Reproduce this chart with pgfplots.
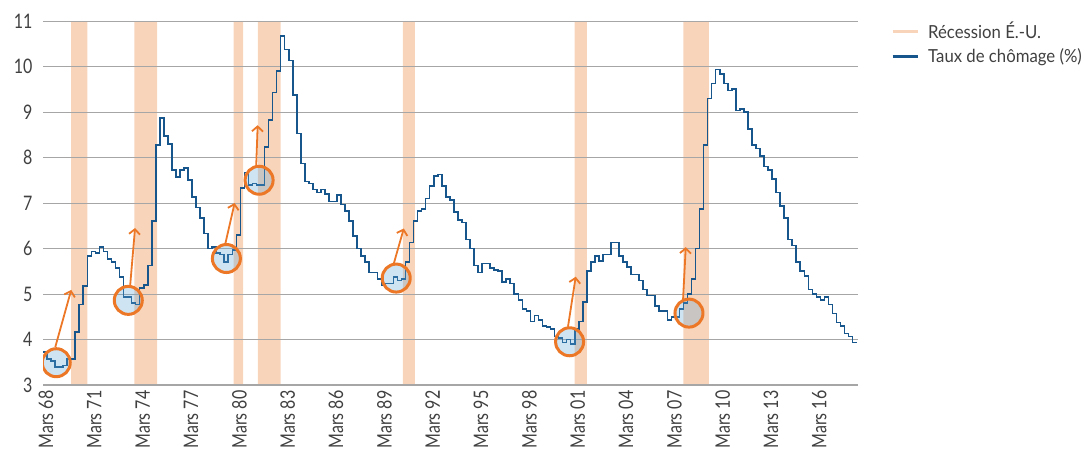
\documentclass[border=0pt]{standalone}
\usepackage{pgfplots}
\pgfplotsset{compat=1.18}
\usepackage{pgfplotstable}
\usepackage{fontspec}
\setmainfont{Lato}[FakeStretch=0.8]
\newfontfamily\legfont{Lato}[FakeStretch=0.93]
\usetikzlibrary{arrows.meta}
\definecolor{recess}{RGB}{248,212,186}
\definecolor{unblue}{RGB}{22,86,140}
\definecolor{gridgray}{RGB}{166,166,166}
\definecolor{annor}{RGB}{236,119,38}
\definecolor{cfill}{RGB}{95,165,215}
\definecolor{textgray}{RGB}{64,64,64}

\pgfplotstableread{
x y
1968.167 3.73
1968.417 3.57
1968.667 3.53
1968.917 3.40
1969.167 3.40
1969.417 3.43
1969.667 3.57
1969.917 3.57
1970.167 4.17
1970.417 4.77
1970.667 5.17
1970.917 5.83
1971.167 5.93
1971.417 5.90
1971.667 6.03
1971.917 5.93
1972.167 5.77
1972.417 5.70
1972.667 5.57
1972.917 5.37
1973.167 4.93
1973.417 4.93
1973.667 4.80
1973.917 4.77
1974.167 5.13
1974.417 5.20
1974.667 5.63
1974.917 6.60
1975.167 8.27
1975.417 8.87
1975.667 8.47
1975.917 8.30
1976.167 7.73
1976.417 7.57
1976.667 7.73
1976.917 7.77
1977.167 7.50
1977.417 7.13
1977.667 6.90
1977.917 6.67
1978.167 6.33
1978.417 6.00
1978.667 6.03
1978.917 5.90
1979.167 5.87
1979.417 5.70
1979.667 5.87
1979.917 5.97
1980.167 6.30
1980.417 7.33
1980.667 7.67
1980.917 7.40
1981.167 7.43
1981.417 7.40
1981.667 7.40
1981.917 8.23
1982.167 8.83
1982.417 9.43
1982.667 9.90
1982.917 10.67
1983.167 10.37
1983.417 10.13
1983.667 9.37
1983.917 8.53
1984.167 7.87
1984.417 7.47
1984.667 7.43
1984.917 7.30
1985.167 7.23
1985.417 7.30
1985.667 7.20
1985.917 7.03
1986.167 7.03
1986.417 7.17
1986.667 6.97
1986.917 6.83
1987.167 6.60
1987.417 6.27
1987.667 6.00
1987.917 5.83
1988.167 5.70
1988.417 5.47
1988.667 5.47
1988.917 5.33
1989.167 5.20
1989.417 5.23
1989.667 5.23
1989.917 5.37
1990.167 5.30
1990.417 5.33
1990.667 5.70
1990.917 6.13
1991.167 6.60
1991.417 6.83
1991.667 6.87
1991.917 7.10
1992.167 7.37
1992.417 7.60
1992.667 7.63
1992.917 7.37
1993.167 7.13
1993.417 7.07
1993.667 6.80
1993.917 6.63
1994.167 6.57
1994.417 6.20
1994.667 6.00
1994.917 5.63
1995.167 5.47
1995.417 5.67
1995.667 5.67
1995.917 5.57
1996.167 5.53
1996.417 5.50
1996.667 5.27
1996.917 5.33
1997.167 5.23
1997.417 5.00
1997.667 4.87
1997.917 4.67
1998.167 4.63
1998.417 4.40
1998.667 4.53
1998.917 4.43
1999.167 4.30
1999.417 4.27
1999.667 4.23
1999.917 4.07
2000.167 4.03
2000.417 3.93
2000.667 4.00
2000.917 3.90
2001.167 4.23
2001.417 4.40
2001.667 4.83
2001.917 5.50
2002.167 5.70
2002.417 5.83
2002.667 5.73
2002.917 5.87
2003.167 5.87
2003.417 6.13
2003.667 6.13
2003.917 5.83
2004.167 5.70
2004.417 5.60
2004.667 5.43
2004.917 5.43
2005.167 5.30
2005.417 5.10
2005.667 4.97
2005.917 4.97
2006.167 4.73
2006.417 4.63
2006.667 4.63
2006.917 4.43
2007.167 4.50
2007.417 4.50
2007.667 4.67
2007.917 4.80
2008.167 5.00
2008.417 5.33
2008.667 6.00
2008.917 6.87
2009.167 8.27
2009.417 9.30
2009.667 9.63
2009.917 9.93
2010.167 9.83
2010.417 9.63
2010.667 9.47
2010.917 9.50
2011.167 9.03
2011.417 9.07
2011.667 9.00
2011.917 8.63
2012.167 8.27
2012.417 8.20
2012.667 8.03
2012.917 7.80
2013.167 7.73
2013.417 7.53
2013.667 7.23
2013.917 6.93
2014.167 6.67
2014.417 6.20
2014.667 6.07
2014.917 5.70
2015.167 5.50
2015.417 5.40
2015.667 5.10
2015.917 5.00
2016.167 4.93
2016.417 4.87
2016.667 4.93
2016.917 4.77
2017.167 4.57
2017.417 4.37
2017.667 4.30
2017.917 4.13
2018.167 4.07
2018.417 3.93
2018.700 3.93
}\unemp

\pgfplotstableread{
x y
1968.167 3
1969.917 11
1970.917 3
1973.833 11
1975.250 3
1980.000 11
1980.583 3
1981.500 11
1982.917 3
1990.500 11
1991.250 3
2001.167 11
2001.917 3
2007.917 11
2009.500 3
2018.750 3
}\recessions

\begin{document}
\begin{tikzpicture}
\begin{axis}[
  set layers,
  scale only axis,
  width=815bp, height=364bp,
  xmin=1968.167, xmax=2018.75,
  ymin=3, ymax=11,
  ytick={3,4,5,6,7,8,9,10,11},
  xtick={1968.167,1971.167,1974.167,1977.167,1980.167,1983.167,1986.167,1989.167,1992.167,1995.167,1998.167,2001.167,2004.167,2007.167,2010.167,2013.167,2016.167},
  xticklabels={Mars 68,Mars 71,Mars 74,Mars 77,Mars 80,Mars 83,Mars 86,Mars 89,Mars 92,Mars 95,Mars 98,Mars 01,Mars 04,Mars 07,Mars 10,Mars 13,Mars 16},
  /pgf/number format/assume math mode=true,
  x tick label style={rotate=90, anchor=east, yshift=-3bp, xshift=-2bp, font=\fontsize{20bp}{22bp}\selectfont, text=textgray},
  y tick label style={font=\fontsize{20bp}{22bp}\selectfont, text=textgray, xshift=-7bp},
  ymajorgrids,
  grid style={draw=gridgray, line width=1bp},
  axis x line*=bottom, axis y line*=left,
  y axis line style={draw=none},
  x axis line style={draw=gridgray, line width=1.6bp},
  major tick length=0pt,
  tick style={draw=none},
  legend image code/.code={\draw[#1] (0bp,0bp) -- (25bp,0bp); \path (32bp,0bp);},
  legend style={at={(1,1)}, anchor=north west, xshift=30bp, yshift=3bp,
    draw=none, fill=none, font=\legfont\fontsize{18bp}{20bp}\selectfont,
    text=textgray, row sep=4bp},
  legend cell align=left,
]
\addplot[on layer=axis background, const plot, fill=recess, draw=none, forget plot] table[x=x,y=y] {\recessions} \closedcycle;
\addlegendimage{line width=3bp, color=recess}
\addlegendentry{Récession É.-U.}
\addlegendimage{line width=3bp, color=unblue}
\addlegendentry{Taux de chômage (\%)}
\addplot[const plot, color=unblue, line width=1.6bp, forget plot] table[x=x,y=y] {\unemp};

\draw[annor, line width=3bp, fill=cfill, fill opacity=0.3] (axis cs:1968.99,3.49) circle[radius=14bp];
\draw[annor, line width=3bp, fill=cfill, fill opacity=0.3] (axis cs:1973.46,4.86) circle[radius=14bp];
\draw[annor, line width=3bp, fill=cfill, fill opacity=0.3] (axis cs:1979.55,5.78) circle[radius=14bp];
\draw[annor, line width=3bp, fill=cfill, fill opacity=0.3] (axis cs:1981.58,7.50) circle[radius=14bp];
\draw[annor, line width=3bp, fill=cfill, fill opacity=0.3] (axis cs:1990.09,5.35) circle[radius=14bp];
\draw[annor, line width=3bp, fill=cfill, fill opacity=0.3] (axis cs:2000.85,3.95) circle[radius=14bp];
\draw[annor, line width=3bp, fill=cfill, fill opacity=0.3] (axis cs:2008.26,4.58) circle[radius=14bp];
\draw[annor, line width=1.8bp, -{Straight Barb[length=5bp,width=11bp]}] (axis cs:1968.93,3.835) -- (axis cs:1969.92,5.09);
\draw[annor, line width=1.8bp, -{Straight Barb[length=5bp,width=11bp]}] (axis cs:1973.58,5.20) -- (axis cs:1973.88,6.45);
\draw[annor, line width=1.8bp, -{Straight Barb[length=5bp,width=11bp]}] (axis cs:1979.48,6.10) -- (axis cs:1980.06,7.00);
\draw[annor, line width=1.8bp, -{Straight Barb[length=5bp,width=11bp]}] (axis cs:1981.40,7.82) -- (axis cs:1981.49,8.71);
\draw[annor, line width=1.8bp, -{Straight Barb[length=5bp,width=11bp]}] (axis cs:1989.94,5.67) -- (axis cs:1990.56,6.44);
\draw[annor, line width=1.8bp, -{Straight Barb[length=5bp,width=11bp]}] (axis cs:2000.75,4.28) -- (axis cs:2001.23,5.38);
\draw[annor, line width=1.8bp, -{Straight Barb[length=5bp,width=11bp]}] (axis cs:2007.89,4.87) -- (axis cs:2008.06,6.03);
\end{axis}
\pgfresetboundingbox
\path[use as bounding box] (-43bp,-67bp) rectangle (1045bp,385bp);
\end{tikzpicture}
\end{document}
